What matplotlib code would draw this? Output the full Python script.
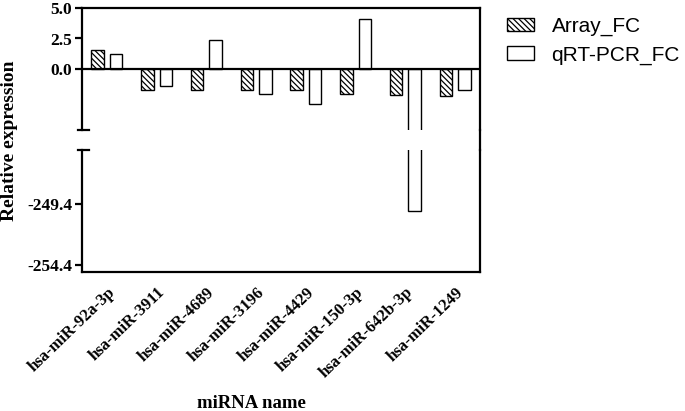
import numpy as np
import matplotlib
matplotlib.use("Agg")
import matplotlib.pyplot as plt
from matplotlib.lines import Line2D
from matplotlib.patches import Patch

# data
mirnas = ["hsa-miR-92a-3p", "hsa-miR-3911", "hsa-miR-4689", "hsa-miR-3196",
          "hsa-miR-4429", "hsa-miR-150-3p", "hsa-miR-642b-3p", "hsa-miR-1249"]
array_fc = [1.58, -1.69, -1.69, -1.69, -1.75, -2.08, -2.16, -2.19]
qpcr_fc = [1.26, -1.39, 2.40, -2.02, -2.90, 4.10, -250.0, -1.69]

upper_ticks = [5.0, 2.5, 0.0]
lower_ticks = [-249.4, -254.4]

plt.rcParams["hatch.linewidth"] = 0.9
serif = "Liberation Serif"
hatch = "\\" * 6

W, H = 685, 411
fig = plt.figure(figsize=(W / 100, H / 100), dpi=100)

left, right = 82 / W, 480 / W
ax_top = fig.add_axes([left, 1 - 130 / H, right - left, 122 / H])
ax_bot = fig.add_axes([left, 1 - 272 / H, right - left, 122 / H])

x = np.arange(len(mirnas))
bw = 0.25
off = 0.185

for ax in (ax_top, ax_bot):
    ax.bar(x - off, array_fc, bw, facecolor="white", edgecolor="black",
           hatch=hatch, linewidth=1.0)
    ax.bar(x + off, qpcr_fc, bw, facecolor="white", edgecolor="black",
           linewidth=1.0)
    ax.set_xlim(-0.5, len(mirnas) - 0.5)
    for s in ax.spines.values():
        s.set_linewidth(1.6)
    ax.tick_params(axis="y", direction="out", length=5, width=1.6, pad=2)
    ax.tick_params(axis="x", length=0)

ax_top.set_ylim(-5, 5)
ax_top.set_yticks(upper_ticks)
ax_top.set_yticklabels([f"{v:.1f}" for v in upper_ticks], fontfamily=serif,
                       fontweight="bold", fontsize=12.5)
ax_top.spines["bottom"].set_visible(False)
ax_top.set_xticks([])
ax_top.axhline(0, color="black", linewidth=1.6)

ax_bot.set_ylim(-255, -245)
ax_bot.set_yticks(lower_ticks)
ax_bot.set_yticklabels([f"{v:.1f}" for v in lower_ticks], fontfamily=serif,
                       fontweight="bold", fontsize=12.5)
ax_bot.spines["top"].set_visible(False)
ax_bot.set_xticks(x)
ax_bot.set_xticklabels(mirnas, rotation=44, ha="right", rotation_mode="anchor",
                       fontfamily=serif, fontweight="bold", fontsize=12)
ax_bot.tick_params(axis="x", pad=9)

# break caps on the left axis and continuous right edge
for ax, yy in ((ax_top, 0), (ax_bot, 1)):
    ax.add_line(Line2D([-0.011, 0.018], [yy, yy], transform=ax.transAxes,
                       color="black", linewidth=1.6, clip_on=False))
fig.add_artist(Line2D([right, right], [1 - 130 / H, 1 - 150 / H],
                      transform=fig.transFigure, color="black", linewidth=1.6))

fig.text(10 / W, 1 - 141 / H, "Relative expression", rotation=90,
         ha="center", va="center", fontfamily=serif, fontweight="bold",
         fontsize=14)
fig.text(251 / W, 1 - 403 / H, "miRNA name", ha="center", va="center",
         fontfamily=serif, fontweight="bold", fontsize=13.5)

handles = [Patch(facecolor="white", edgecolor="black", hatch=hatch,
                 linewidth=1.0, label="Array_FC"),
           Patch(facecolor="white", edgecolor="black", linewidth=1.0,
                 label="qRT-PCR_FC")]
fig.legend(handles=handles, loc="upper left", bbox_to_anchor=(488 / W, 1.005),
           frameon=False, prop={"family": "Liberation Sans", "size": 15},
           handlelength=1.3, handleheight=0.6, handletextpad=0.85,
           labelspacing=0.45)

fig.savefig("out.png", dpi=100)
